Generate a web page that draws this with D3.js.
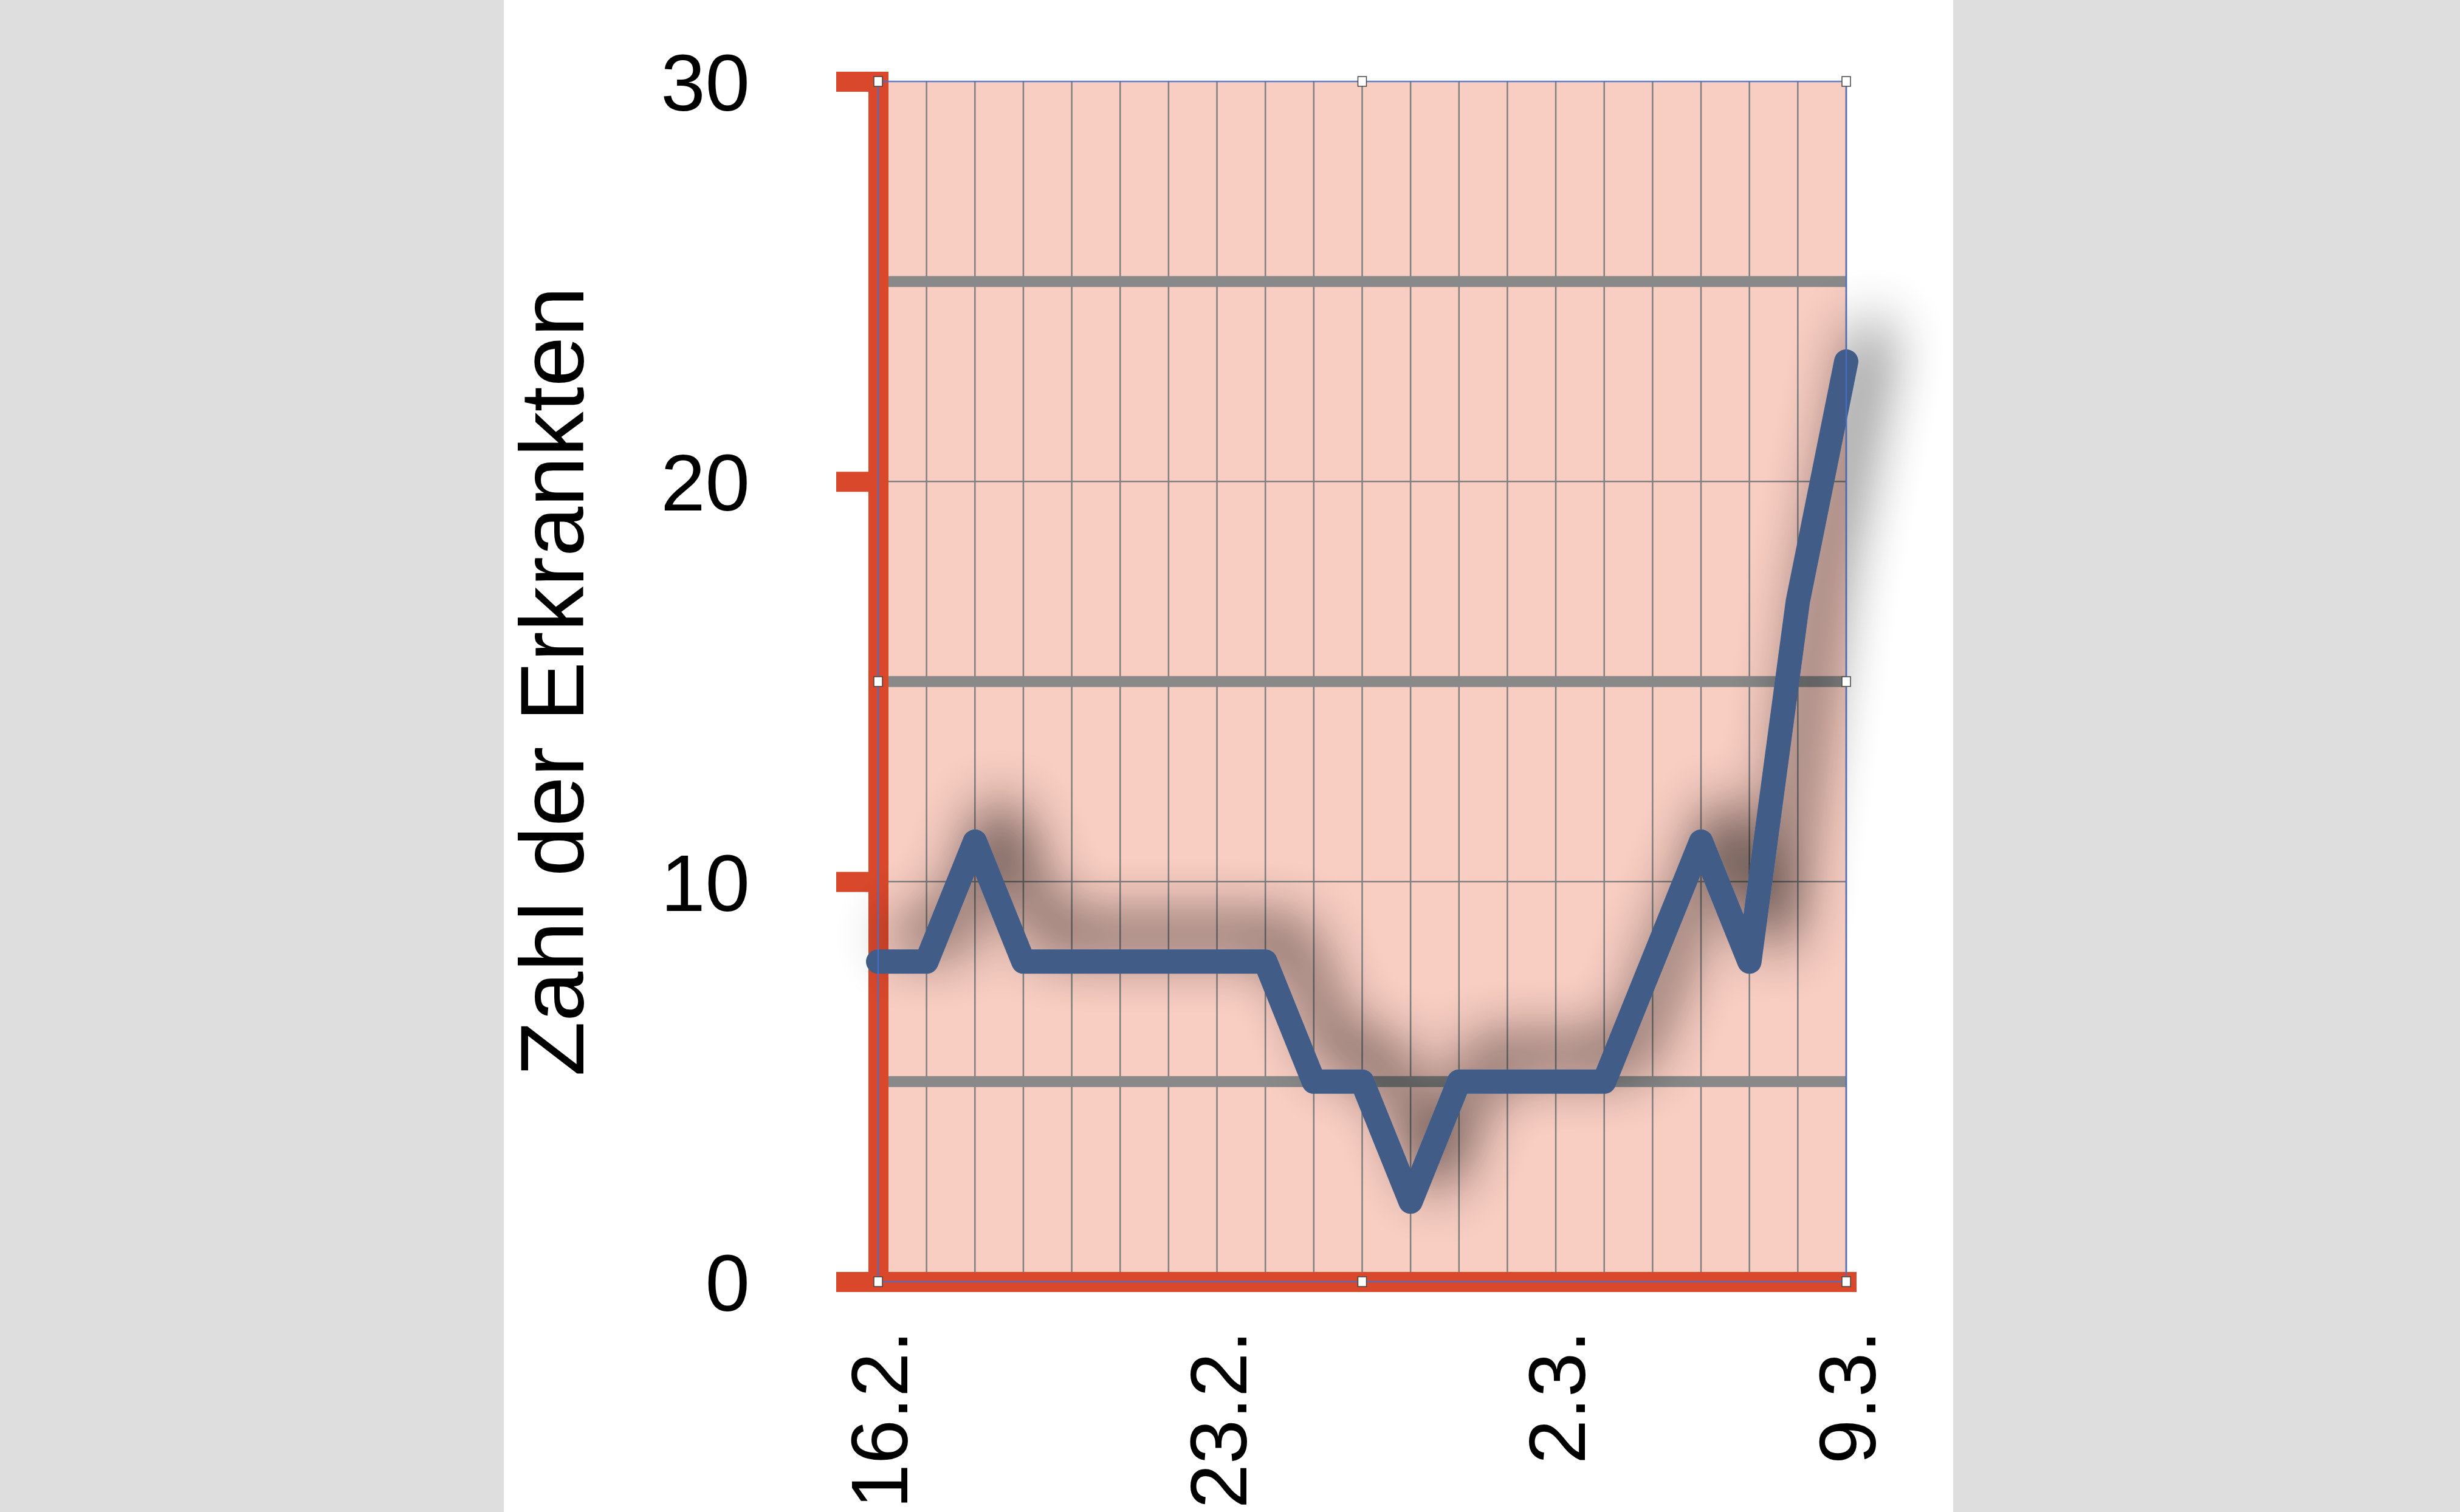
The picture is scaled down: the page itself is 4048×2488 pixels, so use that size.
<!DOCTYPE html>
<html>
<head>
<meta charset="utf-8">
<script src="https://cdn.jsdelivr.net/npm/d3@7"></script>
<style>
  body { margin: 0; background: #dedede; }
  text { font-family: "Liberation Sans", Arial, sans-serif; fill: #000; }
</style>
</head>
<body>
<div id="chart"></div>
<script>
// chart data
var cases = [8, 8, 11, 8, 8, 8, 8, 8, 8, 5, 5, 2, 5, 5, 5, 5, 8, 11, 8, 17, 23];
var tickAt = [0, 7, 14, 20];
var tickLabels = ["16.2.", "23.2.", "2.3.", "9.3."];
var yTicks = [0, 10, 20, 30];
var majorGrid = [10, 20];
var bandLines = [5, 15, 25];
var yTitle = "Zahl der Erkrankten";

// SVG area
var svgWidth = 4048;
var svgHeight = 2488;

// plot box
var plot = { left: 1445, right: 3038, top: 134, bottom: 2109 };

var svg = d3.select("#chart")
  .append("svg")
  .attr("width", svgWidth)
  .attr("height", svgHeight);

// grey page, white slide
svg.append("rect")
  .attr("width", svgWidth)
  .attr("height", svgHeight)
  .style("fill", "#dedede");
svg.append("rect")
  .attr("x", 829)
  .attr("width", 3214 - 829)
  .attr("height", svgHeight)
  .style("fill", "#ffffff");

var xScale = d3.scalePoint()
  .domain(d3.range(cases.length))
  .range([plot.left, plot.right]);

var yScale = d3.scaleLinear()
  .domain([0, 30])
  .range([plot.bottom, plot.top]);

// shadow filter (soft, up-right)
var defs = svg.append("defs");
var filter = defs.append("filter")
  .attr("id", "shadow")
  .attr("filterUnits", "userSpaceOnUse")
  .attr("x", 0).attr("y", 0)
  .attr("width", svgWidth).attr("height", svgHeight);
filter.append("feGaussianBlur")
  .attr("in", "SourceAlpha")
  .attr("stdDeviation", 48)
  .attr("result", "blur");
filter.append("feOffset")
  .attr("in", "blur")
  .attr("dx", 42)
  .attr("dy", -42)
  .attr("result", "off");
filter.append("feComponentTransfer")
  .attr("in", "off")
  .attr("result", "soft")
  .append("feFuncA")
  .attr("type", "linear")
  .attr("slope", 0.85);
var merge = filter.append("feMerge");
merge.append("feMergeNode").attr("in", "soft");
merge.append("feMergeNode").attr("in", "SourceGraphic");

// plot background
svg.append("rect")
  .attr("x", plot.left)
  .attr("y", plot.top)
  .attr("width", plot.right - plot.left)
  .attr("height", plot.bottom - plot.top)
  .style("fill", "#f8cdc2");

// vertical grid
svg.append("g")
  .selectAll("line")
  .data(xScale.domain())
  .enter()
  .append("line")
  .attr("x1", d => xScale(d))
  .attr("x2", d => xScale(d))
  .attr("y1", plot.top)
  .attr("y2", plot.bottom)
  .style("stroke", "#808080")
  .style("stroke-width", 2.5);

// thin horizontal grid
svg.append("g")
  .selectAll("line")
  .data(majorGrid)
  .enter()
  .append("line")
  .attr("x1", plot.left)
  .attr("x2", plot.right)
  .attr("y1", d => yScale(d))
  .attr("y2", d => yScale(d))
  .style("stroke", "#808080")
  .style("stroke-width", 2.5);

// thick grey bands
svg.append("g")
  .selectAll("line")
  .data(bandLines)
  .enter()
  .append("line")
  .attr("x1", plot.left)
  .attr("x2", plot.right)
  .attr("y1", d => yScale(d))
  .attr("y2", d => yScale(d))
  .style("stroke", "#898989")
  .style("stroke-width", 18);

// left axis (red bar + ticks)
var leftAxis = d3.axisLeft(yScale)
  .tickValues(yTicks)
  .tickSizeInner(69)
  .tickSizeOuter(0)
  .tickPadding(142)
  .tickFormat(d3.format("d"));

var yAxisG = svg.append("g")
  .attr("transform", `translate(${plot.left}, 0)`)
  .call(leftAxis);
yAxisG.select(".domain")
  .style("stroke", "#d9482b")
  .style("stroke-width", 33)
  .style("stroke-linecap", "square");
yAxisG.selectAll(".tick line")
  .style("stroke", "#d9482b")
  .style("stroke-width", 33);
yAxisG.selectAll(".tick text")
  .style("font-size", "132px")
  .style("font-family", "'Liberation Sans', Arial, sans-serif")
  .attr("dy", "0.36em");

// bottom axis
var bottomAxis = d3.axisBottom(xScale)
  .tickValues(tickAt)
  .tickSize(0)
  .tickFormat((d, i) => tickLabels[i]);

var xAxisG = svg.append("g")
  .attr("transform", `translate(0, ${plot.bottom})`)
  .call(bottomAxis);
xAxisG.select(".domain")
  .style("stroke", "#d9482b")
  .style("stroke-width", 33)
  .style("stroke-linecap", "square");
xAxisG.selectAll(".tick text")
  .style("font-size", "132px")
  .style("font-family", "'Liberation Sans', Arial, sans-serif")
  .attr("text-anchor", "end")
  .attr("transform", "rotate(-90)")
  .attr("x", -80)
  .attr("y", 0)
  .attr("dy", "0.36em");

// y title
svg.append("text")
  .attr("transform", `translate(960, ${(plot.top + plot.bottom) / 2}) rotate(-90)`)
  .attr("text-anchor", "middle")
  .style("font-size", "148px")
  .text(yTitle);

// data line
var line = d3.line()
  .x((d, i) => xScale(i))
  .y(d => yScale(d));

svg.append("path")
  .datum(cases)
  .attr("d", line)
  .style("fill", "none")
  .style("stroke", "#3f5c87")
  .style("stroke-width", 40)
  .style("stroke-linejoin", "round")
  .style("stroke-linecap", "round")
  .style("filter", "url(#shadow)");

// selection outline
svg.append("rect")
  .attr("x", plot.left)
  .attr("y", plot.top)
  .attr("width", plot.right - plot.left)
  .attr("height", plot.bottom - plot.top)
  .style("fill", "none")
  .style("stroke", "#4a6fc8")
  .style("stroke-opacity", 0.85)
  .style("stroke-width", 2.5);

// selection handles
var midX = (plot.left + plot.right) / 2;
var midY = (plot.top + plot.bottom) / 2;
var handles = [
  [plot.left, plot.top], [midX, plot.top], [plot.right, plot.top],
  [plot.left, midY], [plot.right, midY],
  [plot.left, plot.bottom], [midX, plot.bottom], [plot.right, plot.bottom]
];
svg.append("g")
  .selectAll("rect")
  .data(handles)
  .enter()
  .append("rect")
  .attr("x", d => d[0] - 7)
  .attr("y", d => d[1] - 8)
  .attr("width", 14)
  .attr("height", 16)
  .style("fill", "#ffffff")
  .style("stroke", "#444")
  .style("stroke-width", 1.5);
</script>
</body>
</html>
